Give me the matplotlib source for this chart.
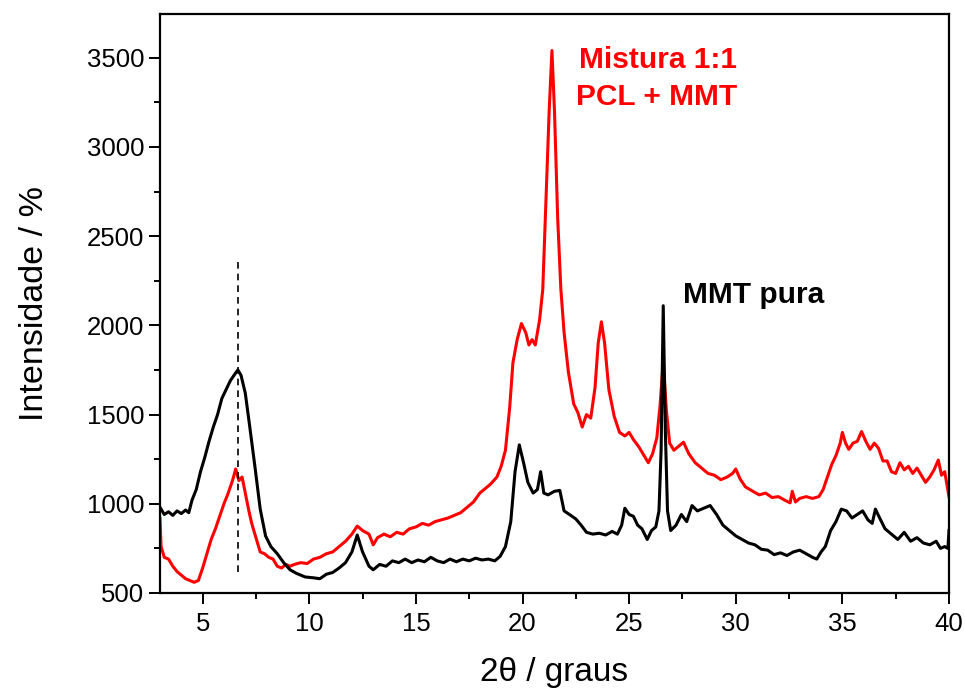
import matplotlib
matplotlib.use("Agg")
import matplotlib.pyplot as plt
from matplotlib.ticker import MultipleLocator

plt.rcParams["font.family"] = ["Liberation Sans", "DejaVu Sans"]

# MMT pura (black)
mmt_x = [3.0, 3.2, 3.4, 3.6, 3.8, 4.0, 4.2, 4.35, 4.5, 4.7, 4.9, 5.1, 5.3, 5.5, 5.7,
         5.9, 6.1, 6.3, 6.5, 6.65, 6.8, 7.0, 7.2, 7.45, 7.7, 7.95, 8.2, 8.5, 8.8, 9.1,
         9.4, 9.8, 10.2, 10.5, 10.8, 11.1, 11.4, 11.7, 12.0, 12.25, 12.5, 12.8, 13.0,
         13.3, 13.6, 13.9, 14.2, 14.5, 14.8, 15.1, 15.4, 15.7, 16.0, 16.3, 16.6, 16.9,
         17.2, 17.5, 17.8, 18.1, 18.4, 18.7, 18.95, 19.2, 19.45, 19.65, 19.85, 20.05,
         20.25, 20.5, 20.7, 20.85, 21.0, 21.2, 21.5, 21.75, 21.95, 22.2, 22.5, 22.75,
         23.0, 23.3, 23.6, 23.9, 24.2, 24.45, 24.65, 24.8, 25.0, 25.2, 25.4, 25.6,
         25.85, 26.05, 26.25, 26.4, 26.5, 26.6, 26.7, 26.8, 26.95, 27.2, 27.45, 27.7,
         27.95, 28.2, 28.5, 28.8, 29.1, 29.4, 29.7, 30.0, 30.3, 30.6, 30.9, 31.2, 31.5,
         31.8, 32.1, 32.4, 32.7, 33.0, 33.3, 33.6, 33.8, 34.0, 34.2, 34.45, 34.7, 34.95,
         35.2, 35.45, 35.7, 35.95, 36.2, 36.4, 36.55, 36.75, 37.0, 37.3, 37.6, 37.9,
         38.2, 38.5, 38.8, 39.1, 39.4, 39.6, 39.8, 39.95, 40.0]
mmt_y = [980, 940, 955, 935, 960, 945, 965, 950, 1020, 1080, 1180, 1260, 1350, 1430, 1500,
         1590, 1640, 1690, 1725, 1750, 1720, 1620, 1440, 1210, 970, 820, 760, 720, 670, 630,
         610, 590, 585, 580, 605, 615, 640, 670, 730, 825, 730, 650, 630,
         660, 650, 680, 670, 690, 670, 685, 675, 700, 680, 670, 690, 675,
         690, 680, 695, 685, 690, 680, 705, 760, 900, 1180, 1330, 1230,
         1120, 1060, 1080, 1180, 1060, 1050, 1070, 1075, 960, 940, 915, 880,
         840, 830, 835, 825, 845, 830, 880, 975, 940, 930, 880, 860,
         800, 850, 870, 960, 1300, 2110, 1400, 960, 850, 880, 940, 900,
         990, 960, 975, 990, 940, 880, 850, 820, 800, 780, 770, 745, 740,
         715, 725, 710, 730, 740, 720, 700, 690, 730, 760, 850, 900, 970,
         960, 920, 940, 960, 910, 890, 970, 920, 860, 830, 800, 840,
         790, 810, 780, 770, 790, 750, 760, 750, 850]

# Mistura 1:1 PCL + MMT (red)
mix_x = [3.0, 3.05, 3.2, 3.4, 3.6, 3.8, 4.0, 4.2, 4.4, 4.6, 4.8, 5.0, 5.2, 5.4, 5.6, 5.8,
         6.0, 6.2, 6.4, 6.55, 6.7, 6.85, 7.0, 7.15, 7.3, 7.5, 7.7, 7.9, 8.1, 8.3, 8.5,
         8.7, 8.9, 9.1, 9.3, 9.6, 9.9, 10.2, 10.5, 10.8, 11.1, 11.4, 11.7, 12.0, 12.25,
         12.5, 12.8, 13.0, 13.2, 13.5, 13.8, 14.1, 14.4, 14.7, 15.0, 15.3, 15.6, 15.9,
         16.2, 16.5, 16.8, 17.1, 17.4, 17.7, 18.0, 18.3, 18.5, 18.8, 19.0, 19.2, 19.4,
         19.55, 19.75, 19.95, 20.15, 20.3, 20.45, 20.6, 20.8, 20.95, 21.1, 21.25, 21.38,
         21.5, 21.65, 21.8, 21.95, 22.15, 22.4, 22.6, 22.8, 23.0, 23.2, 23.4, 23.55,
         23.7, 23.85, 24.05, 24.3, 24.55, 24.8, 25.0, 25.2, 25.45, 25.7, 25.9, 26.1,
         26.3, 26.45, 26.6, 26.75, 26.9, 27.1, 27.3, 27.55, 27.8, 28.1, 28.4, 28.7,
         29.0, 29.3, 29.6, 29.85, 30.0, 30.2, 30.45, 30.8, 31.1, 31.4, 31.7, 32.0, 32.3,
         32.55, 32.65, 32.8, 33.0, 33.3, 33.6, 33.9, 34.1, 34.3, 34.5, 34.7, 34.9, 35.0,
         35.15, 35.3, 35.5, 35.7, 35.9, 36.1, 36.3, 36.5, 36.7, 36.9, 37.1, 37.3, 37.5,
         37.7, 37.9, 38.1, 38.3, 38.5, 38.7, 38.9, 39.1, 39.3, 39.5, 39.65, 39.8, 39.9,
         40.0]
mix_y = [920, 760, 700, 690, 650, 620, 600, 580, 570, 560, 570, 640, 720, 800, 860, 930,
         1000, 1060, 1130, 1195, 1130, 1150, 1060, 970, 890, 810, 730, 720, 700, 690, 650,
         640, 660, 650, 660, 670, 665, 690, 700, 720, 730, 760, 790, 830, 875,
         850, 830, 770, 810, 830, 815, 840, 830, 860, 870, 890, 880, 900,
         910, 920, 935, 950, 980, 1010, 1060, 1090, 1110, 1150, 1210, 1300, 1540,
         1790, 1920, 2010, 1960, 1890, 1920, 1890, 2030, 2200, 2700, 3200, 3540,
         3200, 2600, 2200, 1960, 1740, 1560, 1510, 1430, 1500, 1480, 1650, 1900,
         2020, 1900, 1640, 1490, 1400, 1380, 1400, 1360, 1320, 1270, 1230, 1280,
         1370, 1550, 1800, 1520, 1340, 1300, 1320, 1345, 1280, 1230, 1200, 1170,
         1160, 1135, 1150, 1170, 1195, 1140, 1095, 1070, 1050, 1060, 1035, 1040, 1020,
         1005, 1070, 1010, 1030, 1040, 1030, 1040, 1080, 1150, 1220, 1270, 1340, 1400,
         1340, 1305, 1340, 1350, 1405, 1350, 1305, 1340, 1310, 1240, 1240, 1180, 1170,
         1230, 1190, 1210, 1170, 1200, 1160, 1120, 1150, 1190, 1245, 1160, 1180, 1110,
         1040]

peak_2theta = 6.65
peak_span = (620, 2385)

fig = plt.figure(figsize=(9.65, 6.88), dpi=100)
ax = fig.add_axes([0.1658, 0.1381, 0.8176, 0.8416])

ax.plot(mix_x, mix_y, color="#ff0000", lw=2.2)
ax.plot(mmt_x, mmt_y, color="black", lw=2.2)
ax.vlines(peak_2theta, peak_span[0], peak_span[1], colors="black",
          linestyles=(0, (4, 3)), lw=1.2)

ax.set_xlim(3, 40)
ax.set_ylim(500, 3745)
ax.xaxis.set_major_locator(MultipleLocator(5))
ax.xaxis.set_minor_locator(MultipleLocator(2.5))
ax.yaxis.set_major_locator(MultipleLocator(500))
ax.yaxis.set_minor_locator(MultipleLocator(250))
ax.tick_params(which="major", direction="out", length=8, width=1.4,
               labelsize=18.5, top=False, right=False)
ax.tick_params(axis="x", which="major", pad=6)
ax.tick_params(which="minor", direction="out", length=4.5, width=1.4,
               top=False, right=False)
for sp in ax.spines.values():
    sp.set_linewidth(1.6)

ax.set_xlabel("2θ / graus", fontsize=24, labelpad=15)
ax.set_ylabel("Intensidade / %", fontsize=24.5, labelpad=26)

ax.text(30.06, 3489, "Mistura 1:1", color="#ff0000", fontsize=21.5,
        fontweight="bold", ha="right", va="center")
ax.text(30.06, 3281, "PCL + MMT", color="#ff0000", fontsize=21.5,
        fontweight="bold", ha="right", va="center")
ax.text(27.53, 2171, "MMT pura", color="black", fontsize=21.5,
        fontweight="bold", ha="left", va="center")

fig.savefig("out.png", dpi=100)
